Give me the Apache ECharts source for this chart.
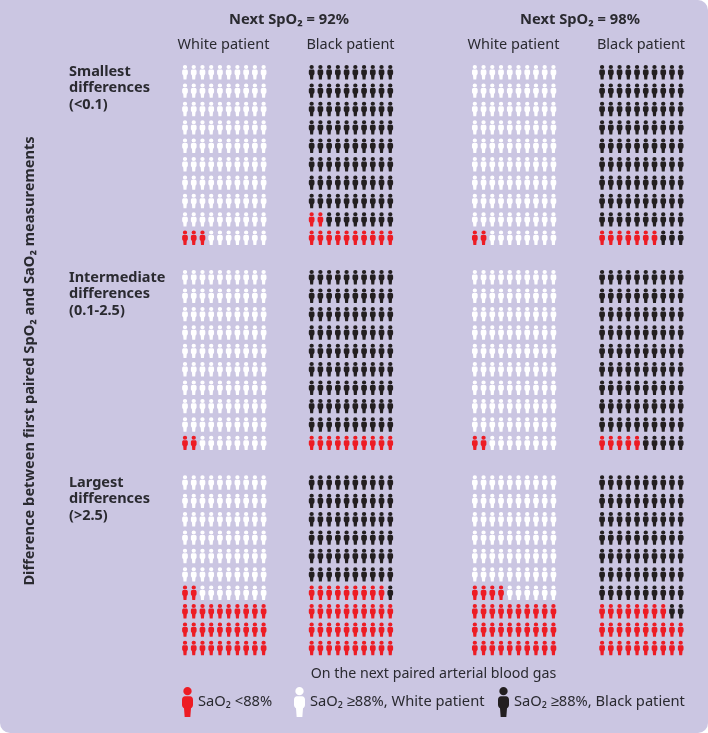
<!DOCTYPE html>
<html><head><meta charset="utf-8">
<script src="https://cdn.jsdelivr.net/npm/echarts@6/dist/echarts.min.js"></script>
<style>html,body{margin:0;background:#fff}#c{width:708px;height:733px;background:#cbc6e2;border-radius:0 10px 10px 10px}</style>
</head><body><div id="c"></div>
<script>
// Data: people out of 100 with SaO2 < 88%
const thresholds = ['Next SpO₂ = 92%', 'Next SpO₂ = 98%'];
const patients = ['White patient', 'Black patient'];
const groups = ['Smallest\ndifferences\n(<0.1)', 'Intermediate\ndifferences\n(0.1-2.5)', 'Largest\ndifferences\n(>2.5)'];
const redWhite92 = [3, 2, 32];
const redBlack92 = [12, 10, 39];
const redWhite98 = [2, 2, 34];
const redBlack98 = [7, 5, 28];
const seriesNames = ['SaO₂ <88%', 'SaO₂ ≥88%, White patient', 'SaO₂ ≥88%, Black patient'];
const xLabel = 'On the next paired arterial blood gas';
const yLabel = 'Difference between first paired SpO₂ and SaO₂ measurements';

// Layout (in icon-pitch units along the axes)
const panelOffsets = [0, 14.5, 33.18, 47.75];
const groupOffsets = [0, 11.15, 22.3];
const RED = '#ed1c24', WHITE = '#ffffff', BLACK = '#231f20', TEXT = '#2a2a30';
const FONT = '"Noto Sans", sans-serif';
const person = 'path://M16.5 0A12.5 12.5 0 1 1 16.49 0ZM9 28L24 28C29 28 33 32 33 38L33 53C33 58 30 62 27 64L25 90L8 90L6 64C3 62 0 58 0 53L0 38C0 32 4 28 9 28Z';

const panels = [redWhite92, redBlack92, redWhite98, redBlack98];
const red = [], white = [], black = [];
panels.forEach((counts, p) => {
  counts.forEach((n, g) => {
    for (let i = 0; i < 100; i++) {
      const col = i % 10, row = 9 - Math.floor(i / 10);
      const pt = [panelOffsets[p] + col, groupOffsets[g] + row];
      if (i < n) red.push(pt);
      else (p % 2 === 0 ? white : black).push(pt);
    }
  });
});
const mk = (name, data, color) => ({
  type: 'scatter', name, data, symbol: person, symbolSize: [5.7, 14.4],
  itemStyle: { color, opacity: 1 }, silent: true, animation: false
});
const legendAt = (i, left) => ({
  left, top: 687, padding: 0, itemWidth: 11, itemHeight: 30, itemGap: 0, selectedMode: false,
  data: [{ name: seriesNames[i], icon: person }],
  textStyle: { fontFamily: FONT, fontSize: 14.7, color: TEXT, padding: [0, 0, 0, 0] }
});
const txt = (text, x, y, size, weight, extra) => ({
  type: 'text', x, y, silent: true,
  style: Object.assign({ text, fontFamily: FONT, fontSize: size, fontWeight: weight, fill: TEXT,
    textAlign: 'center', textVerticalAlign: 'middle' }, extra || {})
});
const chart = echarts.init(document.getElementById('c'), null, { renderer: 'canvas' });
chart.setOption({
  animation: false,
  grid: { left: 185, right: 708 - 680.7, top: 72.2, bottom: 733 - 648 },
  xAxis: { type: 'value', min: 0, max: 56.75, show: false },
  yAxis: { type: 'value', min: 0, max: 31.3, inverse: true, show: false },
  legend: [legendAt(0, 182), legendAt(1, 294), legendAt(2, 498)],
  series: [mk(seriesNames[0], red, RED), mk(seriesNames[1], white, WHITE), mk(seriesNames[2], black, BLACK)],
  graphic: [
    txt(thresholds[0], 289, 20, 14.7, 700),
    txt(thresholds[1], 580, 20, 14.7, 700),
    txt(patients[0], 223.5, 45, 14.5, 400),
    txt(patients[1], 350.5, 45, 14.5, 400),
    txt(patients[0], 513.5, 45, 14.5, 400),
    txt(patients[1], 641, 45, 14.5, 400),
    ...groups.map((g, i) => txt(g, 69, [88, 294, 499][i], 14.5, 700, { textAlign: 'left', lineHeight: 16.5 })),
    txt(xLabel, 433.5, 674, 14.2, 400),
    Object.assign(txt(yLabel, 0, 0, 14.65, 700), { x: 30, y: 361, rotation: Math.PI / 2 })
  ]
});
</script></body></html>
